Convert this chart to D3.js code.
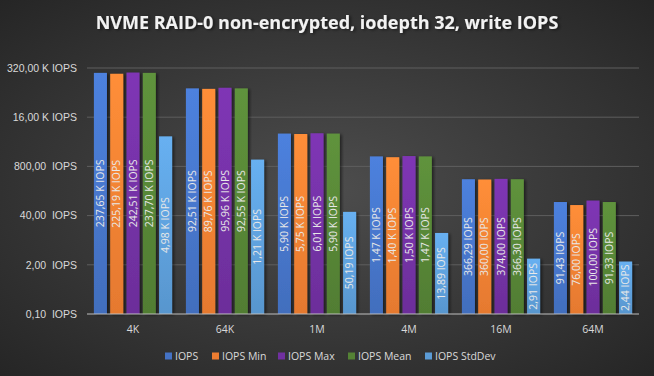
<!DOCTYPE html>
<html>
<head>
<meta charset="utf-8">
<script src="https://cdn.jsdelivr.net/npm/d3@7"></script>
<style>
  html, body { margin: 0; padding: 0; background: #333; }
  svg { display: block; font-family: "Open Sans", "Noto Sans", sans-serif; }
</style>
</head>
<body>
<div id="chart"></div>
<script>
// block sizes on the x axis
const categories = ["4K", "64K", "1M", "4M", "16M", "64M"];

const seriesNames = ["IOPS", "IOPS Min", "IOPS Max", "IOPS Mean", "IOPS StdDev"];
const iops       = [237650, 92510, 5900, 1470, 366.29, 91.43];
const iopsMin    = [225190, 89760, 5750, 1400, 360.00, 76.00];
const iopsMax    = [242510, 95960, 6010, 1500, 374.00, 100.00];
const iopsMean   = [237700, 92550, 5900, 1470, 366.30, 91.33];
const iopsStdDev = [4980, 1210, 50.19, 13.89, 2.91, 2.44];

const yTicks = [0.1, 2, 40, 800, 16000, 320000];

const seriesValues = [iops, iopsMin, iopsMax, iopsMean, iopsStdDev];
const colors = ["#4472c4", "#ed7d31", "#7030a0", "#548235", "#5b9bd5"];

const width = 654, height = 376;
const margin = { top: 68, right: 15, bottom: 62, left: 87 };
const innerW = width - margin.left - margin.right;
const innerH = height - margin.top - margin.bottom;

const svg = d3.select("#chart").append("svg")
    .attr("width", width)
    .attr("height", height);

const defs = svg.append("defs");
const bg = defs.append("radialGradient")
    .attr("id", "bg")
    .attr("cx", "50%").attr("cy", "50%").attr("r", "75%");
bg.append("stop").attr("offset", "0%").attr("stop-color", "#4d4d4d");
bg.append("stop").attr("offset", "100%").attr("stop-color", "#232323");

colors.forEach((c, i) => {
    const g = defs.append("linearGradient")
        .attr("id", "bar" + i)
        .attr("x1", 0).attr("y1", 0).attr("x2", 0).attr("y2", 1);
    g.append("stop").attr("offset", "0%").attr("stop-color", d3.color(c).brighter(0.35));
    g.append("stop").attr("offset", "100%").attr("stop-color", d3.color(c).darker(0.1));
});

const shadow = defs.append("filter").attr("id", "shadow")
    .attr("x", "-30%").attr("y", "-10%").attr("width", "160%").attr("height", "120%");
shadow.append("feDropShadow")
    .attr("dx", 2).attr("dy", 1).attr("stdDeviation", 1.5)
    .attr("flood-color", "#000").attr("flood-opacity", 0.5);

svg.append("rect").attr("width", width).attr("height", height).attr("fill", "url(#bg)");

svg.append("text")
    .attr("x", width / 2)
    .attr("y", 29)
    .attr("text-anchor", "middle")
    .attr("fill", "#f2f2f2")
    .attr("font-size", "18px")
    .attr("font-weight", "bold")
    .style("filter", "url(#shadow)")
    .text("NVME RAID-0 non-encrypted, iodepth 32, write IOPS");

const g = svg.append("g").attr("transform", `translate(${margin.left},${margin.top})`);

const x0 = d3.scaleBand().domain(categories).range([0, innerW]).paddingInner(0.15).paddingOuter(0.075);
const x1 = d3.scaleBand().domain(seriesNames).range([0, x0.bandwidth()]).paddingInner(0.2);
const y = d3.scaleLog().base(20).domain([0.1, 320000]).range([innerH, 0]);

function fmt(v) {
    if (v >= 1000) return (v / 1000).toFixed(2).replace(".", ",") + " K IOPS";
    return v.toFixed(2).replace(".", ",") + " IOPS";
}
function fmtTick(v) {
    if (v >= 1000) return (v / 1000).toFixed(2).replace(".", ",") + " K IOPS";
    return v.toFixed(2).replace(".", ",") + "  IOPS";
}

// grid
g.selectAll("line.grid")
    .data(yTicks.slice(1))
    .enter().append("line")
    .attr("x1", 0).attr("x2", innerW)
    .attr("y1", d => y(d)).attr("y2", d => y(d))
    .attr("stroke", "#5e5e5e")
    .attr("stroke-width", 1);

const yAxis = g.append("g")
    .call(d3.axisLeft(y).tickValues(yTicks).tickFormat(fmtTick).tickSize(0).tickPadding(10));
yAxis.select(".domain").remove();
yAxis.selectAll("text")
    .attr("fill", "#d9d9d9")
    .attr("font-size", "10.5px")
    .style("white-space", "pre");

// bars
const groups = g.selectAll("g.cat")
    .data(categories)
    .enter().append("g")
    .attr("transform", d => `translate(${x0(d)},0)`);

seriesNames.forEach((name, si) => {
    groups.append("rect")
        .attr("x", x1(name))
        .attr("width", x1.bandwidth())
        .attr("y", (d, ci) => y(seriesValues[si][ci]))
        .attr("height", (d, ci) => innerH - y(seriesValues[si][ci]))
        .attr("fill", "url(#bar" + si + ")")
        .style("filter", "url(#shadow)");

    groups.append("text")
        .attr("transform", (d, ci) => {
            const cx = x1(name) + x1.bandwidth() / 2;
            const cy = (y(seriesValues[si][ci]) + innerH) / 2;
            return `translate(${cx},${cy}) rotate(-90)`;
        })
        .attr("text-anchor", "middle")
        .attr("dy", "0.35em")
        .attr("fill", "#e8e8e8")
        .attr("font-size", "10.5px")
        .text((d, ci) => fmt(seriesValues[si][ci]));
});

// x axis
g.append("line")
    .attr("x1", 0).attr("x2", innerW)
    .attr("y1", innerH).attr("y2", innerH)
    .attr("stroke", "#bfbfbf");

g.append("g")
    .selectAll("text")
    .data(categories)
    .enter().append("text")
    .attr("x", d => x0(d) + x0.bandwidth() / 2)
    .attr("y", innerH + 19)
    .attr("text-anchor", "middle")
    .attr("fill", "#d9d9d9")
    .attr("font-size", "10.5px")
    .text(d => d);

// legend
const legendX = [165, 212, 278, 348, 425];
const legend = svg.append("g").attr("transform", "translate(0,356)");
seriesNames.forEach((name, i) => {
    legend.append("rect")
        .attr("x", legendX[i]).attr("y", -3.5)
        .attr("width", 7).attr("height", 7)
        .attr("fill", colors[i]);
    legend.append("text")
        .attr("x", legendX[i] + 10)
        .attr("y", 0)
        .attr("dy", "0.35em")
        .attr("fill", "#d9d9d9")
        .attr("font-size", "10.5px")
        .text(name);
});
</script>
</body>
</html>
